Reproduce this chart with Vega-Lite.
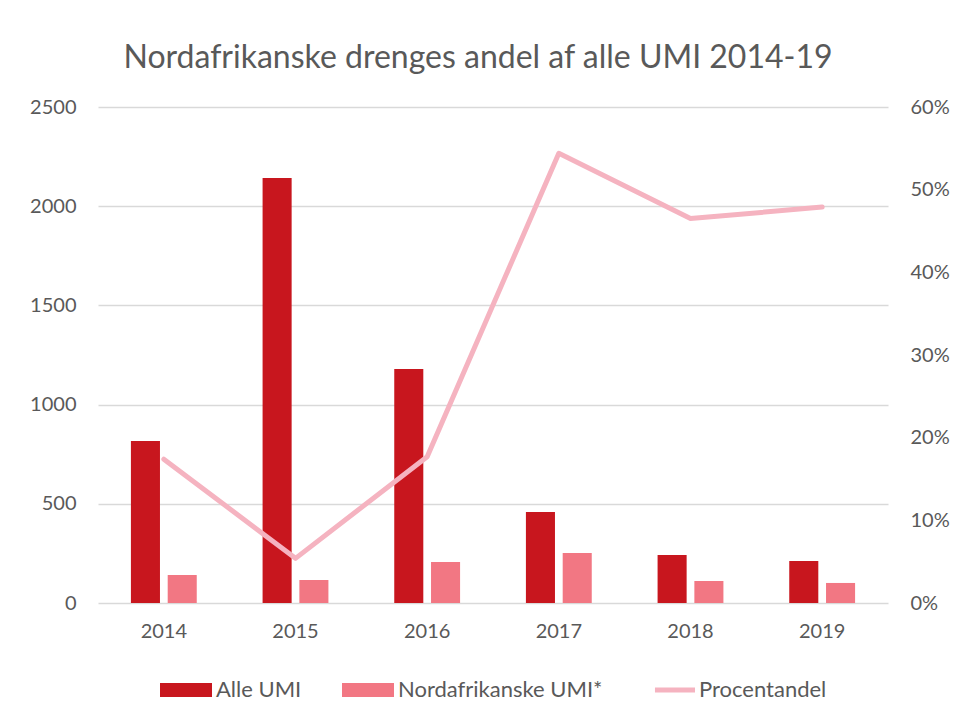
{
  "$schema": "https://vega.github.io/schema/vega-lite/v6.json",
  "autosize": {"type": "none"},
  "width": 790,
  "height": 496,
  "padding": {"left": 98, "top": 107, "right": 70, "bottom": 114},
  "background": "white",
  "config": {
    "font": "Lato",
    "view": {"stroke": null},
    "axis": {"labelColor": "#595959", "labelFont": "Lato", "labelFontSize": 20, "ticks": false, "domain": false, "gridColor": "#D9D9D9", "gridWidth": 1.3}
  },
  "title": {
    "text": "Nordafrikanske drenges andel af alle UMI 2014-19",
    "fontSize": 32,
    "font": "Lato",
    "fontWeight": "normal",
    "color": "#595959",
    "anchor": "middle",
    "dx": -15,
    "offset": 22
  },
  "datasets": {
    "bars": [
      {"year": "2014", "series": "Alle UMI", "value": 817},
      {"year": "2014", "series": "Nordafrikanske UMI*", "value": 141},
      {"year": "2015", "series": "Alle UMI", "value": 2142},
      {"year": "2015", "series": "Nordafrikanske UMI*", "value": 116},
      {"year": "2016", "series": "Alle UMI", "value": 1179},
      {"year": "2016", "series": "Nordafrikanske UMI*", "value": 207},
      {"year": "2017", "series": "Alle UMI", "value": 459},
      {"year": "2017", "series": "Nordafrikanske UMI*", "value": 252},
      {"year": "2018", "series": "Alle UMI", "value": 242},
      {"year": "2018", "series": "Nordafrikanske UMI*", "value": 111},
      {"year": "2019", "series": "Alle UMI", "value": 212},
      {"year": "2019", "series": "Nordafrikanske UMI*", "value": 101}
    ],
    "pct": [
      {"year": "2014", "series": "Procentandel", "pct": 0.174},
      {"year": "2015", "series": "Procentandel", "pct": 0.054},
      {"year": "2016", "series": "Procentandel", "pct": 0.177},
      {"year": "2017", "series": "Procentandel", "pct": 0.544},
      {"year": "2018", "series": "Procentandel", "pct": 0.465},
      {"year": "2019", "series": "Procentandel", "pct": 0.479}
    ]
  },
  "encoding": {
    "x": {
      "field": "year", "type": "nominal", "title": null,
      "scale": {"paddingInner": 0.5, "paddingOuter": 0.25},
      "axis": {"labelAngle": 0, "labelPadding": 18}
    }
  },
  "layer": [
    {
      "data": {"name": "bars"},
      "mark": {"type": "bar"},
      "encoding": {
        "xOffset": {"field": "series", "type": "nominal", "scale": {"paddingInner": 0.21, "paddingOuter": 0}},
        "y": {
          "field": "value", "type": "quantitative", "title": null,
          "scale": {"domain": [0, 2500]},
          "axis": {"values": [0, 500, 1000, 1500, 2000, 2500], "format": "d", "labelPadding": 22, "grid": true}
        },
        "color": {
          "field": "series", "type": "nominal", "title": null,
          "scale": {"domain": ["Alle UMI", "Nordafrikanske UMI*", "Procentandel"], "range": ["#C8161E", "#F27783", "#F5B3C0"]},
          "legend": {
            "orient": "none", "direction": "horizontal", "legendX": 62, "legendY": 557,
            "labelFontSize": 22, "labelColor": "#595959", "labelFont": "Lato", "labelLimit": 400,
            "symbolSize": 2704, "symbolType": "M-1,-0.27H1V0.27H-1Z", "symbolStrokeWidth": 0,
            "columnPadding": 40, "labelOffset": 4,
            "encode": {
              "symbols": {
                "update": {
                  "shape": {"signal": "datum.value === 'Procentandel' ? 'M-0.54,-0.1H1V0.1H-0.54Z' : 'M-1,-0.27H1V0.27H-1Z'"},
                  "fill": {"scale": "color", "field": "value"},
                  "strokeWidth": {"value": 0}
                }
              }
            }
          }
        }
      }
    },
    {
      "data": {"name": "pct"},
      "mark": {"type": "line", "strokeWidth": 5, "strokeCap": "round", "strokeJoin": "round"},
      "encoding": {
        "y": {
          "field": "pct", "type": "quantitative", "title": null,
          "scale": {"domain": [0, 0.6]},
          "axis": {"orient": "right", "format": ".0%", "values": [0, 0.1, 0.2, 0.3, 0.4, 0.5, 0.6], "labelPadding": 22, "grid": false}
        },
        "color": {"field": "series", "type": "nominal"}
      }
    }
  ],
  "resolve": {"scale": {"y": "independent"}}
}
